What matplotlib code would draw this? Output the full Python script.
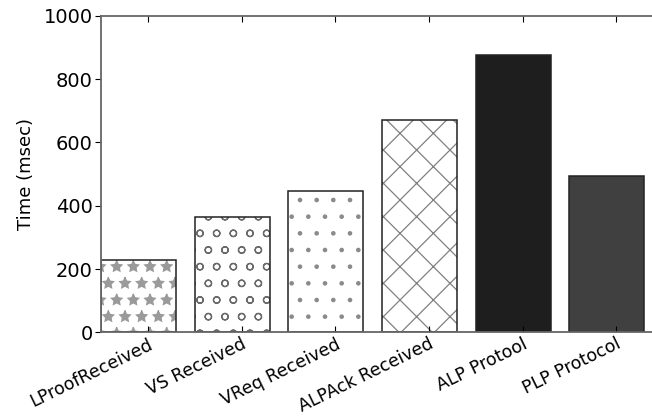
import numpy as np
import matplotlib.pyplot as plt

# message timing per protocol stage
stages = ['LProofReceived', 'VS Received', 'VReq Received',
          'ALPAck Received', 'ALP Protool', 'PLP Protocol']
times = [228, 364, 447, 671, 877, 494]

hatches = ['*', 'o', '.', 'x', '', '']
colors = ['white', 'white', 'white', 'white', '#1e1e1e', '#404040']
hatch_colors = ['#9a9a9a', '#6a6a6a', '#8a8a8a', '#808080', '#1e1e1e', '#404040']

plt.rcParams['hatch.linewidth'] = 0.9

fig = plt.figure(figsize=(6.52, 4.18), dpi=100)
# right edge of the axes runs just past the figure
ax = fig.add_axes([0.155, 0.205, 0.862, 0.757])

ind = np.arange(len(stages))
width = 0.8

# fill + hatch layer, then the black outline on top
fills = ax.bar(ind, times, width=width, align='edge', color=colors,
               edgecolor=hatch_colors, linewidth=0)
for b, h in zip(fills, hatches):
    b.set_hatch(h)
ax.bar(ind, times, width=width, align='edge', fill=False,
       edgecolor='#222222', linewidth=1.1)

ax.set_xlim(0, len(stages))
ax.set_ylim(0, 1000)
ax.set_yticks([0, 200, 400, 600, 800, 1000])
ax.set_xticks(ind + 0.5)
ax.set_xticklabels(stages, rotation=26, ha='right', rotation_mode='anchor', fontsize=12.5)
ax.tick_params(axis='y', labelsize=14, direction='out', length=4, pad=2)
ax.tick_params(axis='x', direction='in', length=4, pad=2, top=True)
ax.set_ylabel('Time (msec)', fontsize=13, labelpad=6)

for s in ax.spines.values():
    s.set_color('#666666')
    s.set_linewidth(1.3)

plt.savefig('out.png', dpi=100)
